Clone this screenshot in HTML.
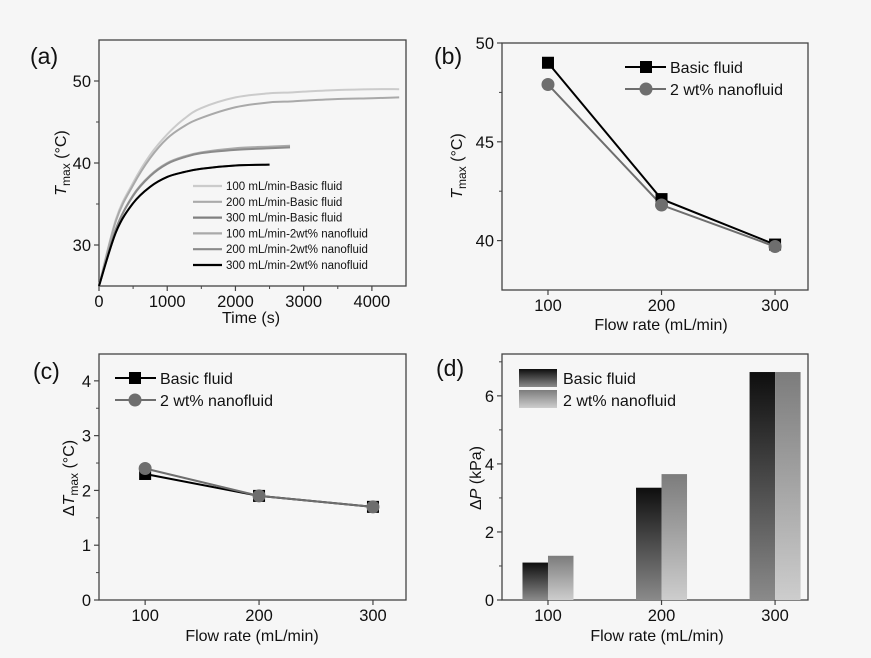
<!DOCTYPE html>
<html><head><meta charset="utf-8"><style>
html,body{margin:0;padding:0;background:#f6f6f6}
svg{display:block;font-family:"Liberation Sans",Arial,sans-serif}
</style></head><body>
<svg id="fig" width="871" height="658" viewBox="0 0 871 658" xmlns="http://www.w3.org/2000/svg">
<defs>
<linearGradient id="gBasic" x1="0" y1="0" x2="0" y2="1"><stop offset="0" stop-color="#0e0e0e"/><stop offset="1" stop-color="#8a8a8a"/></linearGradient>
<linearGradient id="gNano" x1="0" y1="0" x2="0" y2="1"><stop offset="0" stop-color="#7c7c7c"/><stop offset="1" stop-color="#cdcdcd"/></linearGradient>
</defs>
<rect width="871" height="658" fill="#f6f6f6"/>
</svg>
<script>
// Panel (a) data
const timeA = [0,250,500,750,1000,1250,1500,2000,2500,2800,3000,3500,4000,4400];
const a100Basic = [25,33.2,37.6,41.0,43.5,45.4,46.7,48.0,48.5,48.6,48.7,48.9,49.0,49.0];
const a200Basic = [25,32.0,36.1,38.5,40.0,40.8,41.3,41.8,42.0,42.1];
const a300Basic = [25,31.6,35.1,37.1,38.3,38.9,39.3,39.7,39.8];
const a100Nano  = [25,33.0,37.3,40.6,43.0,44.5,45.5,46.8,47.4,47.5,47.6,47.8,47.9,48.0];
const a200Nano  = [25,32.0,36.0,38.4,39.9,40.7,41.2,41.6,41.8,41.9];
const a300Nano  = [25,31.6,35.1,37.1,38.3,38.9,39.3,39.7,39.8];
const aLegend = ["100 mL/min-Basic fluid","200 mL/min-Basic fluid","300 mL/min-Basic fluid","100 mL/min-2wt% nanofluid","200 mL/min-2wt% nanofluid","300 mL/min-2wt% nanofluid"];
const aXTicks = [0,1000,2000,3000,4000];
const aYTicks = [30,40,50];
// Panels (b)(c)(d) data
const flowRates = [100,200,300];
const bBasic = [49.0,42.1,39.8];
const bNano = [47.9,41.8,39.7];
const bYTicks = [40,45,50];
const cBasic = [2.3,1.9,1.7];
const cNano = [2.4,1.9,1.7];
const cYTicks = [0,1,2,3,4];
const dBasic = [1.1,3.3,6.7];
const dNano = [1.3,3.7,6.7];
const dYTicks = [0,2,4,6];

const svg = document.getElementById('fig');
const NS = 'http://www.w3.org/2000/svg';
function mk(tag, attrs, parent){
  const e = document.createElementNS(NS, tag);
  for (const k in attrs) e.setAttribute(k, attrs[k]);
  (parent||svg).appendChild(e); return e;
}
function txt(s, x, y, size, anchor, parent){
  const t = mk('text',{x:x,y:y,'font-size':size,'text-anchor':anchor||'middle',fill:'#111'},parent);
  t.textContent = s; return t;
}
function scale(d0,d1,r0,r1){ return v => r0 + (v-d0)/(d1-d0)*(r1-r0); }

function frame(name, L,T,R,B, xs, ys, xTicks, xMinor, yTicks, yMinor){
  const g = mk('g',{});
  
  
  mk('rect',{x:L,y:T,width:R-L,height:B-T,fill:'none',stroke:'#444','stroke-width':1.3},g);
  xTicks.forEach(v=>{ mk('line',{x1:xs(v),x2:xs(v),y1:B,y2:B+5,stroke:'#444','stroke-width':1.2},g);
    const t = txt(String(v), xs(v), B+21, 16.5, 'middle', g);
    
     });
  xMinor.forEach(v=>mk('line',{x1:xs(v),x2:xs(v),y1:B,y2:B+3,stroke:'#444','stroke-width':1},g));
  yTicks.forEach(v=>{ mk('line',{x1:L-5,x2:L,y1:ys(v),y2:ys(v),stroke:'#444','stroke-width':1.2},g);
    const t = txt(String(v), L-8, ys(v)+6, 16.5, 'end', g);
    
     });
  yMinor.forEach(v=>mk('line',{x1:L-3,x2:L,y1:ys(v),y2:ys(v),stroke:'#444','stroke-width':1},g));
  return g;
}
function panelLabel(s,x,y){
  const t = txt(s,x,y,23,'start');
  
  
}
function yTitle(x, y, main, sub, tail, prefix){
  const t = mk('text',{transform:`translate(${x},${y}) rotate(-90)`,'text-anchor':'middle','font-size':16,fill:'#111'});
  
  
  let h = '';
  if (prefix) h += `<tspan>${prefix}</tspan>`;
  h += `<tspan font-style="italic">${main}</tspan>`;
  if (sub) h += `<tspan font-size="12" dy="4">${sub}</tspan><tspan dy="-4"> ${tail}</tspan>`;
  else h += `<tspan> ${tail}</tspan>`;
  t.innerHTML = h;
}
function xTitle(s,x,y){
  const t = txt(s,x,y,16,'middle');
  
  
}

// ---------- Panel (a)
{
  const L=99,T=40,R=406,B=286;
  const xs = scale(0,4500,L,R), ys = scale(25,55,B,T);
  frame('panel-a',L,T,R,B,xs,ys,aXTicks,[500,1500,2500,3500],aYTicks,[35,45]);
  const series=[[a100Basic,'#cbcbcb'],[a100Nano,'#a9a9a9'],[a200Basic,'#aaaaaa'],[a200Nano,'#8a8a8a'],[a300Basic,'#808080'],[a300Nano,'#000000']];
  const names=['curve-100-basic','curve-100-nano','curve-200-basic','curve-200-nano','curve-300-basic','curve-300-nano'];
  series.forEach((s,i)=>{
    const vals=s[0];
    const pts = vals.map((v,j)=>[xs(timeA[j]),ys(v)]);
    let p='M'+pts[0][0]+','+pts[0][1];
    for(let k=0;k<pts.length-1;k++){
      const p0=pts[Math.max(0,k-1)],p1=pts[k],p2=pts[k+1],p3=pts[Math.min(pts.length-1,k+2)];
      p+=` C${p1[0]+(p2[0]-p0[0])/6},${p1[1]+(p2[1]-p0[1])/6} ${p2[0]-(p3[0]-p1[0])/6},${p2[1]-(p3[1]-p1[1])/6} ${p2[0]},${p2[1]}`;
    }
    const path = mk('path',{d:p,fill:'none',stroke:s[1],'stroke-width':2});
    
    
  });
  const legCols=['#cbcbcb','#aaaaaa','#808080','#a9a9a9','#8a8a8a','#000000'];
  aLegend.forEach((s,i)=>{
    const y=186+i*15.8;
    const g=mk('g',{});
    
    
    mk('line',{x1:193,x2:222,y1:y,y2:y,stroke:legCols[i],'stroke-width':2.2},g);
    txt(s,226,y+4,11.5,'start',g);
  });
  panelLabel('(a)',30,64);
  yTitle(66,163,'T','max','(°C)');
  xTitle('Time (s)',251,323);
}
// ---------- Panel (b)
{
  const L=502,T=43,R=808,B=290;
  const xs=scale(59.5,329,L,R), ys=scale(37.5,50,B,T);
  frame('panel-b',L,T,R,B,xs,ys,flowRates,[],bYTicks,[42.5,47.5]);
  const pb=(arr,col,name)=>{ const l=mk('polyline',{points:arr.map((v,i)=>xs(flowRates[i])+','+ys(v)).join(' '),fill:'none',stroke:col,'stroke-width':2});
      };
  pb(bBasic,'#000','line-basic'); pb(bNano,'#6e6e6e','line-nano');
  bBasic.forEach((v,i)=>{ const r=mk('rect',{x:xs(flowRates[i])-6,y:ys(v)-6,width:12,height:12,fill:'#000'});
      });
  bNano.forEach((v,i)=>{ const c=mk('circle',{cx:xs(flowRates[i]),cy:ys(v),r:6.5,fill:'#6e6e6e'});
      });
  let g=mk('g',{});  
  mk('line',{x1:625,x2:666,y1:67,y2:67,stroke:'#000','stroke-width':2},g); mk('rect',{x:640,y:61,width:12,height:12,fill:'#000'},g);
  txt('Basic fluid',670,73,16,'start',g);
  g=mk('g',{});  
  mk('line',{x1:625,x2:666,y1:89,y2:89,stroke:'#6e6e6e','stroke-width':2},g); mk('circle',{cx:646,cy:89,r:6.5,fill:'#6e6e6e'},g);
  txt('2 wt% nanofluid',670,95,16,'start',g);
  panelLabel('(b)',434,64);
  yTitle(462,166,'T','max','(°C)');
  xTitle('Flow rate (mL/min)',661,330);
}
// ---------- Panel (c)
{
  const L=99,T=354,R=406,B=600;
  const xs=scale(59.5,329,L,R), ys=scale(0,4.49,B,T);
  frame('panel-c',L,T,R,B,xs,ys,flowRates,[],cYTicks,[0.5,1.5,2.5,3.5]);
  const pb=(arr,col,name)=>{ const l=mk('polyline',{points:arr.map((v,i)=>xs(flowRates[i])+','+ys(v)).join(' '),fill:'none',stroke:col,'stroke-width':2});
      };
  pb(cBasic,'#000','line-basic');
  cBasic.forEach((v,i)=>{ const r=mk('rect',{x:xs(flowRates[i])-6,y:ys(v)-6,width:12,height:12,fill:'#000'});
      });
  pb(cNano,'#6e6e6e','line-nano');
  cNano.forEach((v,i)=>{ const c=mk('circle',{cx:xs(flowRates[i]),cy:ys(v),r:6.5,fill:'#6e6e6e'});
      });
  let g=mk('g',{});  
  mk('line',{x1:115,x2:156,y1:378,y2:378,stroke:'#000','stroke-width':2},g); mk('rect',{x:129,y:372,width:12,height:12,fill:'#000'},g);
  txt('Basic fluid',160,384,16,'start',g);
  g=mk('g',{});  
  mk('line',{x1:115,x2:156,y1:400,y2:400,stroke:'#6e6e6e','stroke-width':2},g); mk('circle',{cx:135,cy:400,r:6.5,fill:'#6e6e6e'},g);
  txt('2 wt% nanofluid',160,406,16,'start',g);
  panelLabel('(c)',33,379);
  yTitle(74,478,'T','max','(°C)','Δ');
  xTitle('Flow rate (mL/min)',252,641);
}
// ---------- Panel (d)
{
  const L=502,T=354,R=808,B=600;
  const xs=scale(59.5,329,L,R), ys=scale(0,7.23,B,T);
  frame('panel-d',L,T,R,B,xs,ys,flowRates,[],dYTicks,[1,3,5,7]);
  const bw=25.5;
  dBasic.forEach((v,i)=>{ const r=mk('rect',{x:xs(flowRates[i])-bw,y:ys(v),width:bw,height:B-ys(v),fill:'url(#gBasic)'});
      });
  dNano.forEach((v,i)=>{ const r=mk('rect',{x:xs(flowRates[i]),y:ys(v),width:bw,height:B-ys(v),fill:'url(#gNano)'});
      });
  let g=mk('g',{});  
  mk('rect',{x:519,y:369,width:38,height:18,fill:'url(#gBasic)'},g);
  txt('Basic fluid',563,384,16,'start',g);
  g=mk('g',{});  
  mk('rect',{x:519,y:390,width:38,height:18,fill:'url(#gNano)'},g);
  txt('2 wt% nanofluid',563,406,16,'start',g);
  panelLabel('(d)',436,376);
  yTitle(481,478,'P','','(kPa)','Δ');
  xTitle('Flow rate (mL/min)',657,641);
}
</script>
</body></html>
